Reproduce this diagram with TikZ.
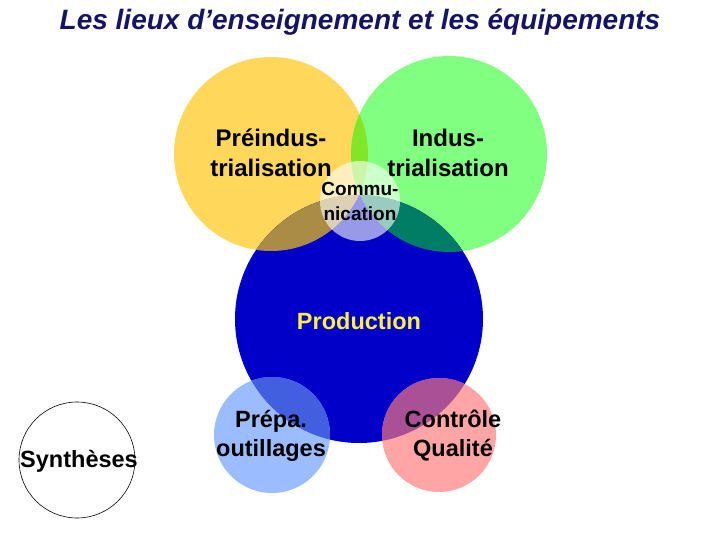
\documentclass[tikz,border=0pt]{standalone}
\usepackage{fontspec}
\setmainfont{Liberation Sans}
\definecolor{cyel}{RGB}{255,215,90}
\definecolor{cgrn}{RGB}{128,255,128}
\definecolor{cblu}{RGB}{0,0,200}
\definecolor{cyg}{RGB}{130,230,40}
\definecolor{cyb}{RGB}{170,140,70}
\definecolor{cgb}{RGB}{0,125,100}
\definecolor{cygb}{RGB}{60,110,50}
\definecolor{cprep}{RGB}{155,188,255}
\definecolor{cprepb}{RGB}{65,95,222}
\definecolor{cctrl}{RGB}{255,165,165}
\definecolor{cctrlb}{RGB}{170,80,150}
\definecolor{ctitle}{RGB}{20,20,100}
\definecolor{cprod}{RGB}{255,240,60}
\tikzset{
  lbl/.style={align=center, font=\bfseries\fontsize{23.5}{29}\selectfont, inner sep=0pt},
}
\begin{document}
\begin{tikzpicture}[x=1pt,y=-1pt]
\useasboundingbox (0,0) rectangle (720,540);
\coordinate (Y) at (271,154);
\coordinate (G) at (449,154);
\coordinate (B) at (359,319);
\coordinate (C) at (360,201);
\coordinate (P) at (272,435);
\coordinate (Q) at (439,435);
\coordinate (S) at (77,460);
\def\rY{97}\def\rG{98}\def\rB{124}\def\rC{40}\def\rP{58}\def\rQ{57}\def\rS{58}
% base circles
\fill[cyel] (Y) circle (\rY);
\fill[cgrn] (G) circle (\rG);
\fill[cblu] (B) circle (\rB);
% intersections
\begin{scope}\clip (Y) circle (\rY); \fill[cyg] (G) circle (\rG); \end{scope}
\begin{scope}\clip (Y) circle (\rY); \fill[cyb] (B) circle (\rB); \end{scope}
\begin{scope}\clip (G) circle (\rG); \fill[cgb] (B) circle (\rB); \end{scope}
\begin{scope}\clip (G) circle (\rG); \clip (Y) circle (\rY); \fill[cygb] (B) circle (\rB); \end{scope}
% communication
\fill[white, opacity=0.6] (C) circle (\rC);
% prepa
\fill[cprep] (P) circle (\rP);
\begin{scope}\clip (P) circle (\rP); \fill[cprepb] (B) circle (\rB); \end{scope}
% controle
\fill[cctrl] (Q) circle (\rQ);
\begin{scope}\clip (Q) circle (\rQ); \fill[cctrlb] (B) circle (\rB); \end{scope}
% syntheses
\draw[black, line width=0.6pt] (S) circle (\rS);
% texts
\node[font=\bfseries\itshape\fontsize{28}{32}\selectfont, text=ctitle, inner sep=0pt] (title) at (360,22) {Les lieux d’enseignement et les équipements};
\node[lbl, font=\bfseries\fontsize{24}{30}\selectfont] (tY) at (271,153) {Préindus-\\trialisation};
\node[lbl, font=\bfseries\fontsize{24}{30}\selectfont] (tG) at (448,153) {Indus-\\trialisation};
\node[lbl, font=\bfseries\fontsize{19}{25}\selectfont] (tC) at (360,201) {Commu-\\nication};
\node[lbl, text=cprod] (tB) at (359,321) {Production};
\node[lbl] (tP) at (271,436) {Prépa.\\outillages};
\node[lbl] (tQ) at (453,436) {Contrôle\\Qualité};
\node[lbl] (tS) at (79,461) {Synthèses};
\end{tikzpicture}
\end{document}
